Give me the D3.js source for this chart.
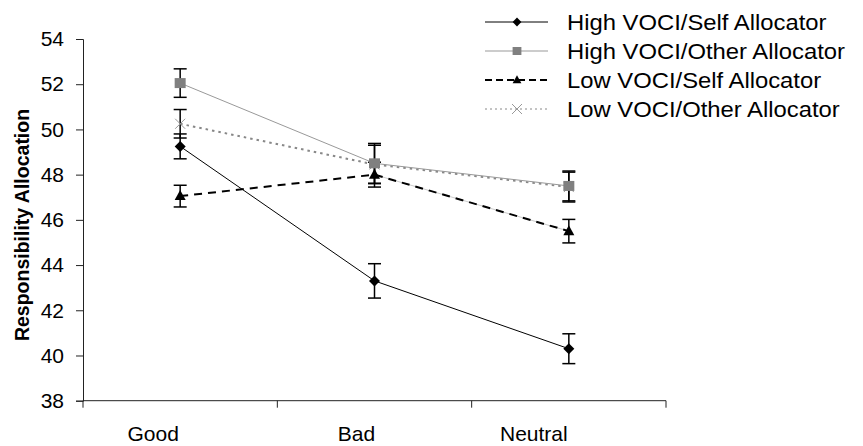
<!DOCTYPE html>
<html><head><meta charset="utf-8">
<script src="https://cdn.jsdelivr.net/npm/d3@7"></script>
<style>body{margin:0;background:#fff}svg{display:block}text{font-family:"Liberation Sans",Arial,sans-serif;fill:#000}</style>
</head><body><div id="chart"></div>
<script>
const categories = ["Good", "Bad", "Neutral"];
const seriesNames = ["High VOCI/Self Allocator", "High VOCI/Other Allocator", "Low VOCI/Self Allocator", "Low VOCI/Other Allocator"];
const highSelf = [49.25, 43.3, 40.3];
const highSelfErr = [0.55, 0.76, 0.66];
const highOther = [52.05, 48.5, 47.5];
const highOtherErr = [0.63, 0.88, 0.66];
const lowSelf = [47.05, 48.0, 45.5];
const lowSelfErr = [0.48, 0.55, 0.52];
const lowOther = [50.25, 48.45, 47.45];
const lowOtherErr = [0.63, 0.85, 0.66];
const yTicks = [38, 40, 42, 44, 46, 48, 50, 52, 54];

const W = 863, H = 446;
const FS = "21px";
const svg = d3.select("#chart").append("svg").attr("width", W).attr("height", H);
const x = d3.scaleBand().domain(categories).range([83, 666]);
const y = d3.scaleLinear().domain([38, 54]).range([400.7, 39]);
const cx = c => x(c) + x.bandwidth() / 2;
const labelNudge = [-27, -18, -35];

const styles = [
  {stroke: "#000", width: 1, dash: null, marker: "diamond", fill: "#000", mcolor: "#000"},
  {stroke: "#999", width: 1, dash: null, marker: "square", fill: "#808080", mcolor: "#808080"},
  {stroke: "#000", width: 2, dash: "8,6", marker: "triangle", fill: "#000", mcolor: "#000"},
  {stroke: "#888", width: 2, dash: "2.5,4", marker: "x", fill: "none", mcolor: "#999"}
];
const series = [
  {name: seriesNames[0], vals: highSelf, err: highSelfErr},
  {name: seriesNames[1], vals: highOther, err: highOtherErr},
  {name: seriesNames[2], vals: lowSelf, err: lowSelfErr},
  {name: seriesNames[3], vals: lowOther, err: lowOtherErr}
];

// axes
const yAxis = d3.axisLeft(y).tickValues(yTicks).tickSize(7).tickPadding(12);
const gy = svg.append("g").attr("transform", "translate(83,0)").call(yAxis);
gy.selectAll("text").style("font-size", FS);
gy.select(".domain").attr("stroke", "#222");
gy.selectAll(".tick line").attr("stroke", "#222");

const gx = svg.append("g").attr("transform", "translate(0,400.7)");
gx.append("line").attr("x1", 83).attr("x2", 666).attr("stroke", "#222");
const tickPos = categories.map(c => x(c)).concat([x.range()[1]]);
gx.selectAll("line.t").data(tickPos).enter().append("line").attr("class", "t")
  .attr("x1", d => d).attr("x2", d => d).attr("y1", 0).attr("y2", 7).attr("stroke", "#222");
gx.selectAll("text").data(categories).enter().append("text")
  .attr("x", (d, i) => cx(d) + labelNudge[i]).attr("y", 40)
  .attr("text-anchor", "middle").style("font-size", FS).text(d => d);

svg.append("text").attr("transform", "translate(29,225) rotate(-90)")
  .attr("text-anchor", "middle").style("font-size", "19.5px").style("font-weight", "bold")
  .text("Responsibility Allocation");

function marker(g, type, st, px, py) {
  if (type === "diamond") {
    g.append("path").attr("d", `M${px},${py-5.5}L${px+5.5},${py}L${px},${py+5.5}L${px-5.5},${py}Z`).attr("fill", st.fill);
  } else if (type === "square") {
    g.append("rect").attr("x", px-5.5).attr("y", py-5).attr("width", 11).attr("height", 10).attr("fill", st.fill);
  } else if (type === "triangle") {
    g.append("path").attr("d", `M${px},${py-6}L${px+5.5},${py+4}L${px-5.5},${py+4}Z`).attr("fill", st.fill);
  } else {
    g.append("path").attr("d", `M${px-5},${py-5}L${px+5},${py+5}M${px+5},${py-5}L${px-5},${py+5}`).attr("stroke", st.mcolor).attr("stroke-width", 1);
  }
}

const line = d3.line().x((d, i) => cx(categories[i])).y(d => y(d));
// faint underlay seen on the Low VOCI/Self Bad->Neutral segment
svg.append("path").datum(lowSelf.slice(1)).attr("fill", "none").attr("stroke", "#ccc").attr("stroke-width", 1)
  .attr("d", d3.line().x((d, i) => cx(categories[i + 1])).y(d => y(d)));

// draw order: back to front
const order = [0, 2, 3, 1];
order.forEach(si => {
  const s = series[si], st = styles[si];
  const g = svg.append("g");
  g.append("path").datum(s.vals).attr("fill", "none").attr("stroke", st.stroke)
    .attr("stroke-width", st.width).attr("stroke-dasharray", st.dash).attr("d", line);
  s.vals.forEach((v, i) => {
    const px = cx(categories[i]);
    const t = y(v + s.err[i]), b = y(v - s.err[i]);
    g.append("line").attr("x1", px).attr("x2", px).attr("y1", t).attr("y2", b).attr("stroke", "#000").attr("stroke-width", 1.5);
    [t, b].forEach(yy => g.append("line").attr("x1", px - 6.5).attr("x2", px + 6.5).attr("y1", yy).attr("y2", yy).attr("stroke", "#000").attr("stroke-width", 1.5));
    marker(g, st.marker, st, px, y(v));
  });
});

// legend
const lg = svg.append("g");
const rowY = [22, 51, 80, 109];
series.forEach((s, i) => {
  const st = styles[i];
  const g = lg.append("g");
  g.append("line").attr("x1", 485).attr("x2", 548).attr("y1", rowY[i]).attr("y2", rowY[i])
    .attr("stroke", st.stroke).attr("stroke-width", i === 2 ? 2 : 1)
    .attr("stroke-dasharray", i === 2 ? "7,4" : (i === 3 ? "2,3" : null));
  const gm = g.append("g");
  marker(gm, st.marker, st, 517, rowY[i]);
  if (i !== 3) gm.attr("transform", `translate(517,${rowY[i]}) scale(0.8) translate(-517,${-rowY[i]})`);
  g.append("text").attr("transform", `translate(567,${rowY[i]}) scale(1.083,1)`)
    .attr("dy", "0.35em").style("font-size", "22px").text(s.name);
});
</script></body></html>
